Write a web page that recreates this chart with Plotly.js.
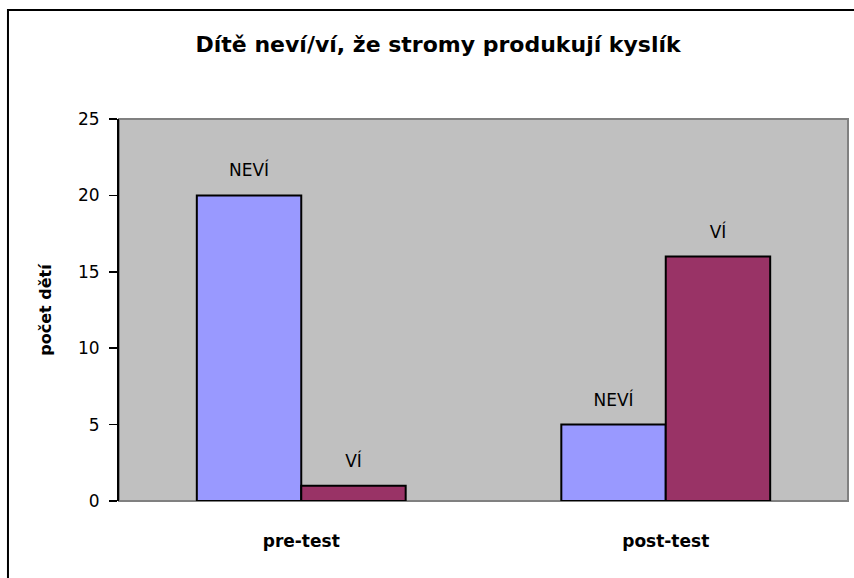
<!DOCTYPE html>
<html>
<head>
<meta charset="utf-8">
<script src="https://cdn.plot.ly/plotly-3.0.1.min.js"></script>
<style>html,body{margin:0;padding:0;background:#fff;}#chart{width:854px;height:578px;}</style>
</head>
<body>
<div id="chart"></div>
<script>
const categories = ["pre-test", "post-test"];
const seriesNames = ["NEVÍ", "VÍ"];
const neviValues = [20, 5];
const viValues = [1, 16];
const yTickValues = [0, 5, 10, 15, 20, 25];
const chartTitle = "Dítě neví/ví, že stromy produkují kyslík";
const yTitle = "počet dětí";

const colors = ["#9999FF", "#993366"];
const seriesValues = [neviValues, viValues];

const traces = [];
seriesValues.forEach((vals, i) => {
  traces.push({
    type: "bar",
    x: categories,
    y: vals,
    name: seriesNames[i],
    offsetgroup: String(i),
    marker: {color: colors[i], line: {color: "#000000", width: 2}},
    hoverinfo: "none"
  });
});
seriesValues.forEach((vals, i) => {
  traces.push({
    type: "scatter",
    mode: "markers+text",
    x: categories,
    y: vals,
    offsetgroup: String(i),
    text: vals.map(() => seriesNames[i]),
    textposition: "top center",
    textfont: {family: "DejaVu Sans, Arial, sans-serif", size: 17, color: "#000000"},
    marker: {size: 22, opacity: 0},
    hoverinfo: "none",
    cliponaxis: false
  });
});

const layout = {
  width: 854,
  height: 578,
  margin: {l: 119, r: 6, t: 119, b: 77},
  paper_bgcolor: "#ffffff",
  plot_bgcolor: "#C0C0C0",
  showlegend: false,
  barmode: "group",
  scattermode: "group",
  bargap: 0.427,
  bargroupgap: 0,
  title: {
    text: chartTitle,
    font: {family: "DejaVu Sans, Arial, sans-serif", size: 22, color: "#000000", weight: "bold"},
    xref: "container", yref: "container",
    x: 0.513, xanchor: "center",
    y: 0.924, yanchor: "middle"
  },
  xaxis: {
    type: "category",
    showgrid: false,
    showline: false,
    ticks: "",
    ticklabelstandoff: 28,
    tickfont: {family: "DejaVu Sans, Arial, sans-serif", size: 17, color: "#000000", weight: "bold"},
    fixedrange: true
  },
  yaxis: {
    range: [0, 25],
    tickvals: yTickValues,
    ticktext: yTickValues.map(String),
    showgrid: false,
    zeroline: false,
    showline: true,
    linecolor: "#000000",
    linewidth: 2,
    ticks: "outside",
    ticklen: 8,
    tickwidth: 1.5,
    tickcolor: "#000000",
    ticklabelstandoff: 6,
    tickfont: {family: "DejaVu Sans, Arial, sans-serif", size: 17, color: "#000000"},
    title: {
      text: yTitle,
      font: {family: "DejaVu Sans, Arial, sans-serif", size: 16, color: "#000000", weight: "bold"},
      standoff: 22
    },
    fixedrange: true
  },
  shapes: [
    {type: "rect", xref: "paper", yref: "paper", x0: 0, x1: 1, y0: 0, y1: 1,
     line: {color: "#808080", width: 2}, layer: "below"},
    {type: "rect", xref: "paper", yref: "paper", x0: -0.1523, x1: 1.0137, y0: -0.21, y1: 1.2853,
     line: {color: "#000000", width: 2}, layer: "above"}
  ]
};

Plotly.newPlot("chart", traces, layout, {displayModeBar: false, staticPlot: true});
</script>
</body>
</html>
